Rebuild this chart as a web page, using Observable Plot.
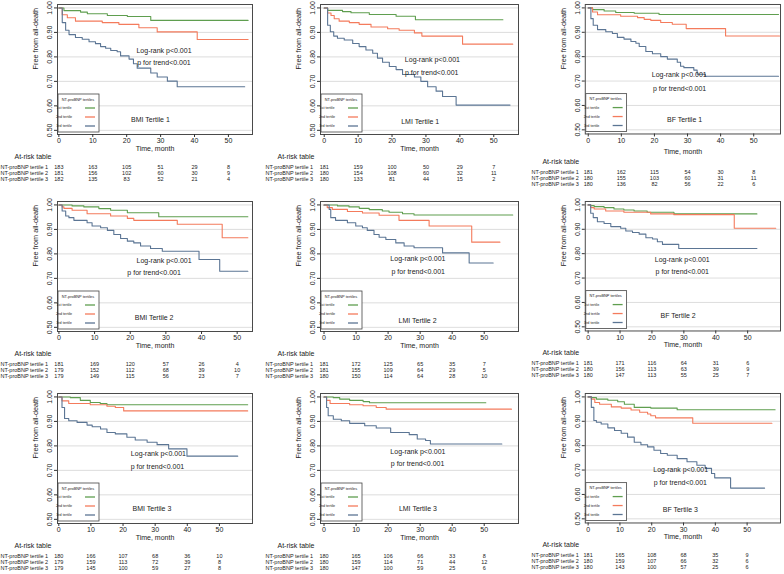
<!DOCTYPE html>
<html><head><meta charset="utf-8">
<script src="https://cdn.jsdelivr.net/npm/d3@7"></script>
<script src="https://cdn.jsdelivr.net/npm/@observablehq/plot@0.6"></script>
<style>
body{margin:0;background:#fff;}
#chart{position:relative;width:784px;height:574px;overflow:hidden;background:#fff;font-family:"Liberation Sans",Arial,sans-serif;}
.panel{position:absolute;}
</style></head><body><div id="chart"></div>
<script>
// ---------- data ----------
const timeTicks = [0, 10, 20, 30, 40, 50];
const survTicks = [0.5, 0.6, 0.7, 0.8, 0.9, 1.0];
const seriesNames = ["1st tertile", "2nd tertile", "3rd tertile"];
const riskLabels = ["NT-proBNP tertile 1", "NT-proBNP tertile 2", "NT-proBNP tertile 3"];
const panelTitles = ["BMI Tertile 1", "LMI Tertile 1", "BF Tertile 1",
                     "BMI Tertile 2", "LMI Tertile 2", "BF Tertile 2",
                     "BMI Tertile 3", "LMI Tertile 3", "BF Tertile 3"];
const legendTitle = "NT-proBNP tertiles";
const logrankText = "Log-rank p<0.001";
const trendText = "p for trend<0.001";

// [month, survival] step points
const bmi1_t1 = [[0,1],[1.5,0.989],[6.4,0.983],[8.4,0.976],[14.3,0.969],[20.2,0.965],[27.1,0.949],[55.8,0.949]];
const bmi1_t2 = [[0,1],[1,0.972],[2.5,0.960],[4.9,0.946],[12.8,0.940],[17.7,0.933],[23.6,0.919],[29,0.902],[40.8,0.871],[55.8,0.871]];
const bmi1_t3 = [[0,1],[1,0.94],[2,0.909],[3,0.891],[4.9,0.879],[6.9,0.872],[8.9,0.862],[10.8,0.854],[12.3,0.842],[13.8,0.835],[15.3,0.826],[17.2,0.821],[18.2,0.804],[20.7,0.791],[22,0.772],[23.1,0.754],[27.1,0.734],[29,0.718],[32,0.701],[34.9,0.678],[54.8,0.678]];

const lmi1_t1 = [[0,1],[1,0.99],[5.4,0.985],[7.9,0.98],[13.3,0.973],[21.2,0.966],[26.9,0.952],[52.7,0.952]];
const lmi1_t2 = [[0,1],[1,0.979],[2,0.969],[2.95,0.956],[4.4,0.946],[7.4,0.94],[10.3,0.933],[13.8,0.922],[18.7,0.915],[22.1,0.909],[26.6,0.898],[28.8,0.885],[40.8,0.852],[55.6,0.852]];
const lmi1_t3 = [[0,1],[1,0.929],[1.8,0.903],[2.8,0.885],[3.9,0.876],[5.9,0.869],[8.4,0.855],[10.3,0.842],[12.3,0.828],[14.3,0.815],[15.7,0.795],[17.2,0.778],[19.2,0.761],[21.2,0.748],[23.1,0.728],[26.6,0.718],[28.5,0.70],[30.5,0.678],[33,0.66],[34.9,0.638],[38.9,0.603],[54.8,0.603]];

const bf1_t1 = [[0,1],[1.3,0.993],[4.8,0.987],[8.3,0.981],[13.9,0.978],[21.4,0.973],[57.5,0.973]];
const bf1_t2 = [[0,1],[1.3,0.983],[2.8,0.972],[9.8,0.966],[14.9,0.96],[16.9,0.953],[18.9,0.949],[21.9,0.94],[25.4,0.933],[29.6,0.915],[41.5,0.885],[57.8,0.885]];
const bf1_t3 = [[0,1],[0.8,0.956],[1.5,0.929],[2.8,0.911],[5.3,0.902],[7.3,0.895],[8.8,0.879],[10.8,0.872],[12.9,0.862],[14.4,0.855],[15.4,0.842],[17.4,0.821],[19.4,0.812],[21.9,0.80],[23.9,0.79],[26.9,0.777],[27.9,0.761],[28.9,0.755],[31.9,0.745],[32.9,0.728],[35.4,0.72],[57.5,0.72]];

const bmi2_t1 = [[0,1],[3.7,0.996],[7.0,0.992],[11.2,0.985],[14.5,0.978],[19.2,0.968],[28.0,0.952],[53,0.952]];
const bmi2_t2 = [[0,1],[0.9,0.992],[1.4,0.986],[3.7,0.978],[7.9,0.964],[14.5,0.955],[19.2,0.945],[21,0.937],[33.2,0.921],[45.8,0.866],[53,0.866]];
const bmi2_t3 = [[0,1],[0.9,0.975],[1.9,0.955],[2.8,0.948],[4.2,0.937],[7.9,0.927],[9.3,0.914],[11.7,0.907],[13.6,0.896],[15.4,0.879],[17.3,0.863],[19.2,0.852],[21,0.845],[22.9,0.832],[25.7,0.822],[29,0.811],[39.3,0.777],[45.1,0.729],[53,0.729]];

const lmi2_t1 = [[0,1],[4.2,0.996],[7.8,0.992],[11,0.986],[14.1,0.981],[18.2,0.975],[20.3,0.97],[24.5,0.964],[28.1,0.959],[58.9,0.959]];
const lmi2_t2 = [[0,1],[1,0.989],[2.6,0.982],[7.3,0.973],[12,0.967],[17.2,0.958],[23.4,0.937],[32.8,0.914],[46.1,0.848],[54.9,0.848]];
const lmi2_t3 = [[0,1],[1.6,0.982],[2.1,0.948],[3.6,0.937],[7.3,0.927],[9.9,0.914],[12,0.907],[13.5,0.896],[15.6,0.879],[17.2,0.868],[19.3,0.859],[22.4,0.845],[25,0.832],[28.1,0.825],[37,0.804],[45.3,0.763],[52.8,0.763]];

const bf2_t1 = [[0,1],[0.8,0.997],[1.9,0.993],[5,0.989],[8.1,0.983],[11.2,0.979],[14.4,0.975],[18.5,0.970],[26.9,0.963],[52.9,0.963]];
const bf2_t2 = [[0,1],[0.8,0.989],[1.9,0.983],[5.5,0.975],[11.2,0.970],[19.6,0.963],[26.9,0.96],[45.8,0.904],[58.8,0.904]];
const bf2_t3 = [[0,1],[0.8,0.966],[1.6,0.948],[2.9,0.931],[5,0.924],[7.1,0.911],[10.2,0.904],[11.8,0.893],[13.9,0.887],[16,0.88],[18.1,0.865],[20.2,0.86],[21.7,0.849],[23.3,0.838],[28.4,0.821],[52.9,0.821]];

const bmi3_t1 = [[0,1],[3.6,0.997],[6.7,0.986],[9.8,0.977],[12.9,0.973],[15.0,0.968],[58.8,0.968]];
const bmi3_t2 = [[0,1],[1,0.984],[3.1,0.973],[9.8,0.968],[15,0.962],[17.6,0.957],[20.2,0.943],[58.8,0.943]];
const bmi3_t3 = [[0,1],[1,0.957],[1.8,0.912],[3.1,0.903],[5.7,0.896],[8.8,0.885],[10.4,0.878],[13,0.869],[15,0.855],[17.6,0.849],[21.2,0.835],[23.8,0.824],[27.5,0.815],[30.6,0.805],[34.2,0.788],[39.9,0.758],[55.7,0.758]];

const lmi3_t1 = [[0,1],[2.9,0.997],[4.9,0.991],[8,0.986],[12.2,0.981],[14.2,0.976],[50.5,0.976]];
const lmi3_t2 = [[0,1],[0.8,0.986],[1.9,0.973],[8,0.968],[12.2,0.964],[16.3,0.957],[19.4,0.95],[58.5,0.95]];
const lmi3_t3 = [[0,1],[0.8,0.957],[1.3,0.923],[2.9,0.909],[5.4,0.903],[8,0.892],[12.7,0.882],[16.3,0.873],[20.8,0.855],[26.6,0.846],[29.1,0.828],[31.7,0.822],[33.2,0.808],[55.5,0.808]];

const bf3_t1 = [[0,1],[1,0.997],[2.6,0.991],[6.2,0.986],[9.3,0.980],[11.4,0.970],[14.5,0.957],[19.7,0.954],[28,0.947],[58.8,0.947]];
const bf3_t2 = [[0,1],[1,0.991],[2.1,0.977],[3.6,0.970],[7.3,0.959],[10.4,0.954],[13.5,0.946],[16.2,0.937],[18.7,0.930],[19.7,0.923],[21.2,0.914],[32.9,0.892],[57.8,0.892]];
const bf3_t3 = [[0,1],[1,0.957],[1.8,0.903],[2.6,0.896],[4.1,0.889],[6.2,0.873],[8.3,0.862],[10.4,0.851],[12.4,0.835],[14.5,0.814],[16.6,0.804],[18.7,0.795],[20.7,0.781],[22.8,0.768],[24.9,0.761],[28,0.747],[31.1,0.734],[34.2,0.72],[36.8,0.707],[38.8,0.686],[39.8,0.668],[44.8,0.626],[55.5,0.626]];

// numbers at risk at months 0,10,20,30,40,50
const bmi1_risk = [[183,163,105,51,29,8],[181,156,102,60,30,9],[182,135,83,52,21,4]];
const lmi1_risk = [[181,159,100,50,29,7],[180,154,108,60,32,11],[180,133,81,44,15,2]];
const bf1_risk  = [[181,162,115,54,30,8],[180,155,103,60,31,11],[180,136,82,56,22,6]];
const bmi2_risk = [[181,169,120,57,26,4],[179,152,112,68,39,10],[179,149,115,56,23,7]];
const lmi2_risk = [[181,172,125,65,35,7],[181,155,109,64,29,5],[180,150,114,64,28,10]];
const bf2_risk  = [[181,171,116,64,31,6],[180,156,113,63,39,9],[180,147,113,55,25,7]];
const bmi3_risk = [[180,166,107,68,36,10],[179,159,113,72,39,8],[179,145,100,59,27,8]];
const lmi3_risk = [[180,165,106,66,33,8],[180,159,114,71,44,12],[180,147,100,59,25,6]];
const bf3_risk  = [[181,165,108,68,35,9],[180,159,107,66,32,6],[180,143,100,57,25,6]];

// ---------- layout / style ----------
const colors = ["#5f9e4f", "#f47b5c", "#5b7594"];
const colFrameLeft = [57, 320, 585];
const colFrameWidth = [195, 198, 196];
const rowFrameTop = [3.5, 200.7, 392.7];
const frameH = 130;
const yDomain = [0.483, 1.014];
const xDomains = [[-0.4,57.1],[-1.1,57.3],[-0.9,58.1],[-0.4,54.3],[-1.1,60.7],[-0.9,60.3],[-0.4,60.3],[-1.1,60.7],[-0.9,60.5]];
const tableShift = [0,0,6,0,0,0,0,0,0];
const rowLabelDx = [-57,-55,-54];
// annotation anchors [logrank x,y, trend x,y, title x,y] in data units
const annPos = [
  [31,0.825, 31,0.775, 27,0.544],
  [31.9,0.788, 31.7,0.737, 28.3,0.537],
  [27.5,0.725, 27.6,0.670, 29.1,0.542],
  [29.5,0.774, 26.7,0.722, 26.7,0.539],
  [29.3,0.781, 29.4,0.726, 29.2,0.527],
  [29.5,0.777, 29.5,0.725, 28.2,0.547],
  [31,0.768, 30.7,0.716, 29,0.543],
  [29.3,0.777, 29.2,0.727, 29.3,0.543],
  [29.1,0.70, 29,0.648, 29,0.538]
];

const panelCurves = [
  [bmi1_t1,bmi1_t2,bmi1_t3],[lmi1_t1,lmi1_t2,lmi1_t3],[bf1_t1,bf1_t2,bf1_t3],
  [bmi2_t1,bmi2_t2,bmi2_t3],[lmi2_t1,lmi2_t2,lmi2_t3],[bf2_t1,bf2_t2,bf2_t3],
  [bmi3_t1,bmi3_t2,bmi3_t3],[lmi3_t1,lmi3_t2,lmi3_t3],[bf3_t1,bf3_t2,bf3_t3]
];
const panelRisk = [bmi1_risk,lmi1_risk,bf1_risk,bmi2_risk,lmi2_risk,bf2_risk,bmi3_risk,lmi3_risk,bf3_risk];

const chart = document.getElementById("chart");
const ML = 57, MT = 4, MR = 4, MB = 62;
const FONT = "Liberation Sans, Arial, Helvetica, sans-serif";

panelCurves.forEach((curves, i) => {
  const r = Math.floor(i / 3), c = i % 3;
  const fw = colFrameWidth[c];
  const W = ML + fw + MR, H = MT + frameH + MB;
  const rows = curves.flatMap((pts, k) => pts.map(([t, s]) => ({t, s, g: seriesNames[k]})));
  const ts = tableShift[i];
  const a = annPos[i];
  const risk = panelRisk[i];
  const marks = [
    Plot.gridY(survTicks, {stroke: "#d4d4d4", strokeOpacity: 1, strokeWidth: 0.8}),
    Plot.line(rows, {x: "t", y: "s", z: "g", stroke: "g", curve: "step-after", strokeWidth: 1.1}),
    Plot.frame({stroke: "#4a4a4a", strokeWidth: 1}),
    Plot.axisX(timeTicks, {tickSize: 3, tickPadding: 1, fontSize: 7, label: null, stroke: "#333"}),
    Plot.axisY(survTicks, {tickSize: 3, tickPadding: 2.5, tickRotate: -90, tickFormat: d => d.toFixed(2), fontSize: 7, label: null, stroke: "#333"}),
    Plot.text(["Free from all-death"], {text: d => d, frameAnchor: "left", rotate: -90, dx: -22, fontSize: 7.3}),
    Plot.text(["Time, month"], {text: d => d, frameAnchor: "bottom", dy: 16 + (ts ? 4 : 0), fontSize: 7}),
    Plot.text([a], {x: d => d[0], y: d => d[1], text: () => logrankText, fontSize: 7}),
    Plot.text([a], {x: d => d[2], y: d => d[3], text: () => trendText, fontSize: 7}),
    Plot.text([a], {x: d => d[4], y: d => d[5], text: () => panelTitles[i], fontSize: 7}),
    Plot.text(["At-risk table"], {text: d => d, frameAnchor: "bottom-left", dx: -43, dy: 24.5 + ts, textAnchor: "start", fontSize: 7}),
    ...risk.map((vals, k) => Plot.text(vals.map((n, j) => ({t: timeTicks[j], n})),
      {x: "t", text: "n", frameAnchor: "bottom", dy: 34.5 + 6 * k + ts, fontSize: 5.5})),
    ...riskLabels.map((lab, k) => Plot.text([lab], {text: d => d, frameAnchor: "bottom-left", dx: rowLabelDx[c], dy: 34.5 + 6 * k + ts, textAnchor: "start", fontSize: 5.5}))
  ];
  const svg = Plot.plot({
    width: W, height: H,
    marginLeft: ML, marginRight: MR, marginTop: MT, marginBottom: MB,
    x: {domain: xDomains[i], label: null},
    y: {domain: yDomain, label: null},
    color: {domain: seriesNames, range: colors},
    style: {fontFamily: FONT, fontSize: "7px", color: "#222", background: "transparent", overflow: "visible"},
    marks
  });
  // legend box inside the frame, bottom-left corner
  const g = d3.select(svg).append("g")
    .attr("transform", `translate(${ML + 1},${MT + frameH - 40})`)
    .attr("font-family", FONT).attr("fill", "#222");
  g.append("rect").attr("width", 41).attr("height", 38).attr("fill", "#fff").attr("stroke", "#444").attr("stroke-width", 0.8);
  g.append("text").attr("x", 20).attr("y", 6.5).attr("text-anchor", "middle").attr("font-size", 3.9).text(legendTitle);
  seriesNames.forEach((s, k) => {
    const yy = 14 + 9 * k;
    g.append("text").attr("x", 6).attr("y", yy + 1.3).attr("font-size", 3.7).text(s);
    g.append("line").attr("x1", 27).attr("x2", 37).attr("y1", yy).attr("y2", yy)
      .attr("stroke", colors[k]).attr("stroke-width", 1.3);
  });
  const div = document.createElement("div");
  div.className = "panel";
  div.style.left = (colFrameLeft[c] - ML) + "px";
  div.style.top = (rowFrameTop[r] - MT) + "px";
  div.appendChild(svg);
  chart.appendChild(div);
});
</script></body></html>
